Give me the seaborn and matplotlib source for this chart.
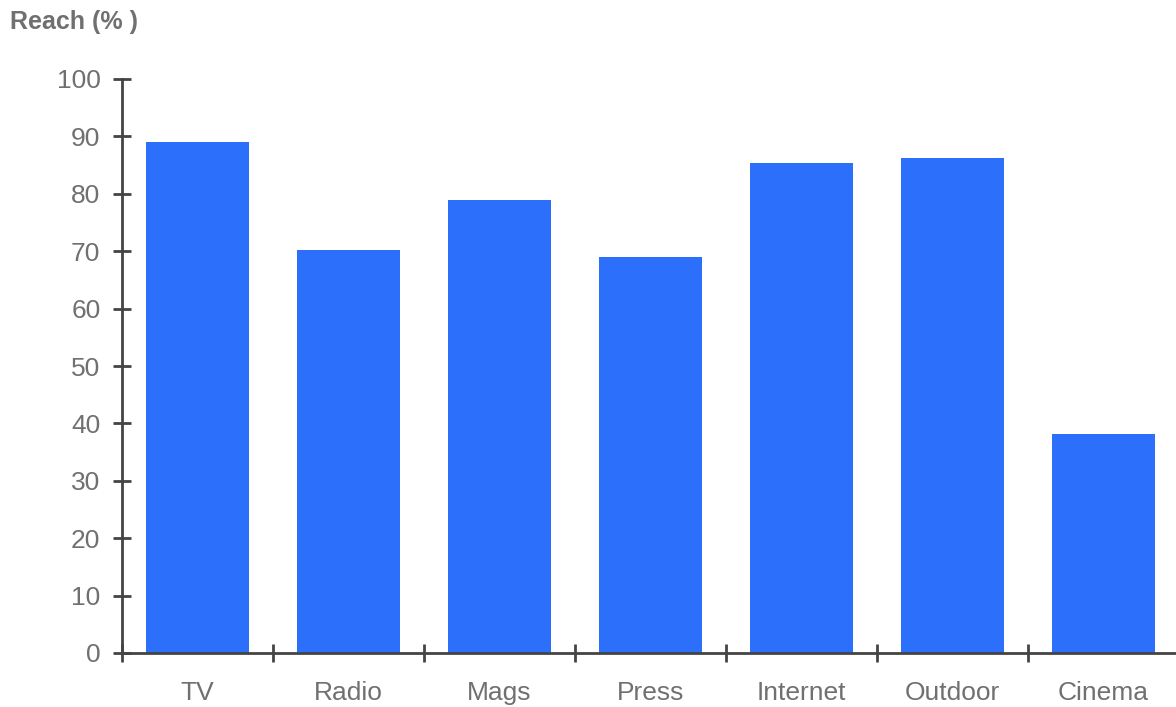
import matplotlib
matplotlib.use("Agg")
import matplotlib.pyplot as plt
import seaborn as sns
import pandas as pd
import numpy as np

# reach per media channel
channels = ["TV", "Radio", "Mags", "Press", "Internet", "Outdoor", "Cinema"]
reach = [89.0, 70.2, 79.0, 69.0, 85.3, 86.2, 38.2]
y_ticks = list(range(0, 101, 10))

sns.set_style("white")
plt.rcParams["font.family"] = ["Liberation Sans", "DejaVu Sans"]

df = pd.DataFrame({"channel": channels, "reach": reach})

fig = plt.figure(figsize=(11.76, 7.07), dpi=100)
ax = fig.add_axes([122 / 1176, 1 - 653 / 707, (1179 - 122) / 1176, (653 - 79) / 707])

sns.barplot(data=df, x="channel", y="reach", color="#2b6ffb", saturation=1,
            width=0.68, ax=ax, edgecolor="none")

axis_col = "#444444"
text_col = "#707070"

ax.set_xlim(-0.5, len(channels) - 0.5)
ax.set_ylim(0, 100)
ax.set_yticks(y_ticks)
ax.set_xlabel("")
ax.set_ylabel("")

for side in ["top", "right"]:
    ax.spines[side].set_visible(False)
for side in ["left", "bottom"]:
    ax.spines[side].set_color(axis_col)
    ax.spines[side].set_linewidth(2)

ax.tick_params(axis="y", left=True, direction="inout", length=13, width=2,
               color=axis_col, labelsize=19, labelcolor=text_col, pad=9)
ax.tick_params(axis="x", which="major", bottom=True, length=0, labelsize=19,
               labelcolor=text_col, pad=20)
ax.set_xticks(np.arange(-0.5, len(channels), 1.0), minor=True)
ax.tick_params(axis="x", which="minor", bottom=True, direction="inout",
               length=13, width=2, color=axis_col)

fig.text(10 / 1176, 1 - 10 / 707, "Reach (% )", fontsize=18, fontweight="bold",
         color=text_col, ha="left", va="top")

fig.savefig("out.png", dpi=100)
